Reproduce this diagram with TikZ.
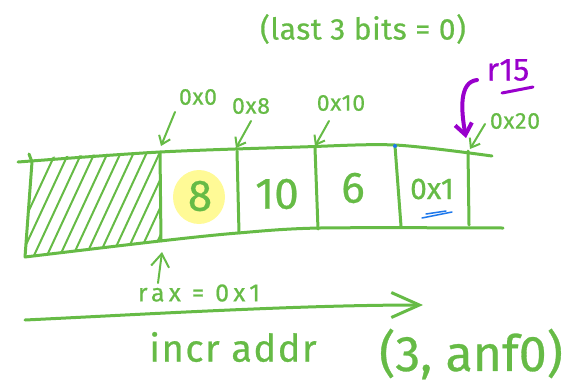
\documentclass[tikz,border=0pt]{standalone}
\usepackage{fontspec}
\setmainfont{Fira Sans}
\newfontfamily\inkfont{Fira Sans}[FakeBold=0.6]
\usetikzlibrary{arrows.meta}
\definecolor{inkgreen}{RGB}{102,187,70}
\definecolor{inkpurple}{RGB}{153,0,204}
\definecolor{inkblue}{RGB}{30,120,235}
\definecolor{hilite}{RGB}{255,250,150}
\newcommand{\fs}[1]{\inkfont\fontsize{#1}{#1}\selectfont}
\newcommand{\wide}[1]{\addfontfeature{LetterSpace=#1}}

\begin{document}
\begin{tikzpicture}[x=1pt,y=-1pt,line cap=round,line join=round,
  ink/.style={draw=inkgreen,line width=3pt},
  hatch/.style={draw=inkgreen,line width=2pt},
  pointer/.style={draw=inkgreen,line width=2pt,-{Straight Barb[length=8pt,width=12pt]}},
  lbl/.style={text=inkgreen,inner sep=0pt,font=\fs{23}\wide{3}},
  cellnum/.style={text=inkgreen,inner sep=0pt,font=\fs{44}},
  note/.style={text=inkgreen,inner sep=0pt},
]
\useasboundingbox (0,0) rectangle (567,389);

% highlight behind the first value
\fill[hilite] (199,197) ellipse [x radius=26, y radius=27];

% hatched (unused) cell on the left
\begin{scope}
  \clip (31,158) -- (159,151) -- (160,241) -- (25,257) -- cycle;
  \foreach \i in {0,...,11}
    \draw[hatch] ({5+13*\i},262) -- ({57+13*\i},150);
\end{scope}

% memory strip: top and bottom edges
\draw[ink] plot[smooth,tension=0.5] coordinates {(18,162) (160,152) (300,147) (395,145) (492,156)};
\draw[ink] plot[smooth,tension=0.5] coordinates {(25,257) (160,241) (238,233) (320,228) (503,228)};
% left edge and cell separators
\draw[ink] (29,154) -- (32,162) -- (25,257);
\draw[ink] (160,152) -- (161,241);
\draw[ink] (237,151) -- (239,233);
\draw[ink] (315,148) -- (318,229);
\draw[ink] (395,146) -- (401,226);
\draw[ink] (468,151) -- (469,225);
\fill[inkblue] (395,146) circle (2);

% cell contents
\node[cellnum] (c1) at (200,196) {8};
\node[cellnum] (c2) at (277,194) {10};
\node[cellnum] (c3) at (353,188) {6};
\node[text=inkgreen,inner sep=0pt,font=\fs{30}] (c4) at (432,189) {0x1};
\draw[inkblue,line width=1.5pt] (422,218) -- (452,212);
\draw[inkblue,line width=1.5pt] (426,214) -- (446,211);

% address labels with pointers onto the cell boundaries
\node[lbl] (a0) at (198,97) {0x0};
\node[lbl] (a8) at (251,106) {0x8};
\node[lbl] (a10) at (341,103) {0x10};
\node[lbl] (a20) at (515,121) {0x20};
\coordinate (a0s) at (175,112);  \coordinate (a0t) at (161,146);
\coordinate (a8s) at (251,121);  \coordinate (a8t) at (236,148);
\coordinate (a10s) at (329,121); \coordinate (a10t) at (315,146);
\coordinate (a20s) at (485,124); \coordinate (a20t) at (470,149);
\draw[pointer] (a0s) -- (a0t);
\draw[pointer] (a8s) -- (a8t);
\draw[pointer] (a10s) -- (a10t);
\draw[pointer] (a20s) -- (a20t);

% r15 points at the end of the strip
\node[text=inkpurple,inner sep=0pt,font=\fs{32}] (r15) at (508,70) {r15};
\draw[inkpurple,line width=3pt] (502,93) -- (533,87);
\coordinate (r15s) at (477,80);
\coordinate (r15t) at (466,138);
\draw[inkpurple,line width=4pt,-{Straight Barb[length=11pt,width=17pt]}]
  (r15s) .. controls (459,82) and (461,110) .. (r15t);

% rax points at the first cell
\node[note,font=\fs{25}\wide{17}] (rax) at (199,293) {rax = 0x1};
\coordinate (raxs) at (158,283);
\coordinate (raxt) at (162,252);
\draw[pointer,-{Straight Barb[length=13pt,width=18pt]}] (raxs) -- (raxt);

% direction of increasing addresses
\coordinate (dirs) at (25,320);
\coordinate (dirt) at (423,305);
\draw[ink,-{Straight Barb[length=28pt,width=25pt]}] (dirs) .. controls (150,314) and (300,305) .. (dirt);
\node[note,font=\fs{38}\wide{4}] (incr) at (233,347) {incr addr};

\node[note,font=\fs{50}] (tuple) at (471,354) {(3, anf0)};
\node[note,font=\fs{30}\wide{2}] (bits) at (363,29) {(last 3 bits = 0)};
\end{tikzpicture}
\end{document}
